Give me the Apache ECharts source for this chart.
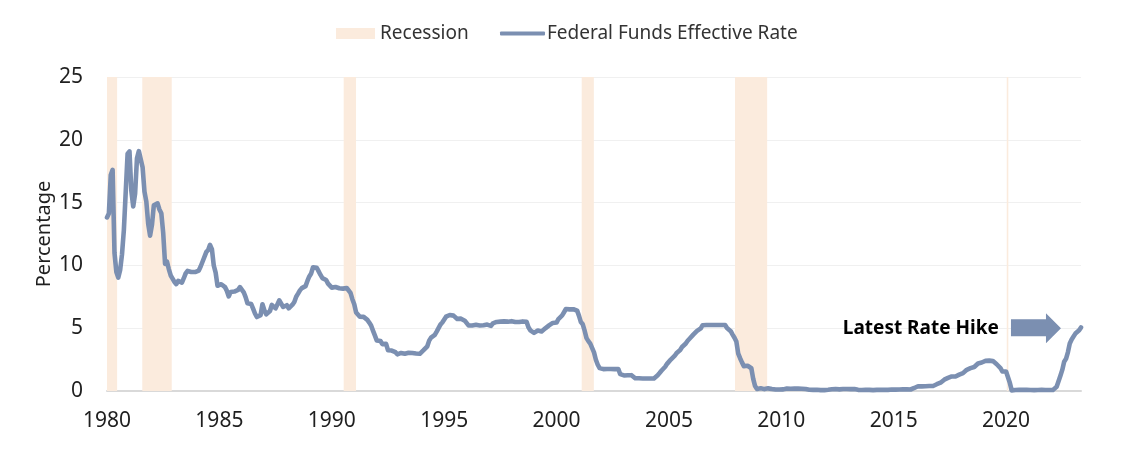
<!DOCTYPE html>
<html>
<head>
<meta charset="utf-8">
<script src="https://cdn.jsdelivr.net/npm/echarts@6/dist/echarts.min.js"></script>
<style>
html,body{margin:0;padding:0;background:#fff;}
#chart{width:1124px;height:449px;}
</style>
</head>
<body>
<div id="chart"></div>
<script>
// Monthly Federal Funds Effective Rate, starting Jan 1980
var startYear = 1980;
var rates = [
13.82,14.13,17.19,17.61,10.98,9.47,9.03,9.61,10.87,12.81,15.85,18.90,
19.08,15.93,14.70,15.72,18.52,19.10,19.04,17.82,15.87,15.08,13.31,12.37,
13.22,14.78,14.68,14.94,14.45,14.15,12.59,10.12,10.31,9.71,9.20,8.95,
8.68,8.51,8.77,8.80,8.63,8.98,9.37,9.56,9.45,9.48,9.34,9.47,
9.56,9.59,9.91,10.29,10.32,11.06,11.23,11.64,11.30,9.99,9.43,8.38,
8.35,8.50,8.58,8.27,7.97,7.53,7.88,7.90,7.92,7.99,8.05,8.27,
8.14,7.86,7.48,6.99,6.85,6.92,6.56,6.17,5.89,5.85,6.04,6.91,
6.43,6.10,6.13,6.37,6.85,6.73,6.58,6.73,7.22,7.29,6.69,6.77,
6.83,6.58,6.58,6.87,7.09,7.51,7.75,8.01,8.19,8.30,8.35,8.76,
9.12,9.36,9.85,9.84,9.81,9.53,9.24,8.99,9.02,8.84,8.55,8.45,
8.23,8.24,8.28,8.26,8.18,8.29,8.15,8.13,8.20,8.11,7.81,7.31,
6.91,6.25,6.12,5.91,5.78,5.90,5.82,5.66,5.45,5.21,4.81,4.43,
4.03,4.06,3.98,3.73,3.82,3.76,3.25,3.30,3.22,3.10,3.09,2.92,
3.02,3.03,3.07,2.96,3.00,3.04,3.06,3.03,3.09,2.99,3.02,2.96,
3.05,3.25,3.34,3.56,4.01,4.25,4.26,4.47,4.73,4.76,5.29,5.45,
5.53,5.92,5.98,6.05,6.01,6.00,5.85,5.74,5.80,5.76,5.80,5.60,
5.56,5.22,5.31,5.22,5.24,5.27,5.40,5.22,5.30,5.24,5.31,5.29,
5.25,5.19,5.39,5.51,5.50,5.56,5.52,5.54,5.54,5.50,5.52,5.50,
5.56,5.51,5.49,5.45,5.49,5.56,5.54,5.55,5.51,5.07,4.83,4.68,
4.63,4.76,4.81,4.74,4.74,4.76,4.99,5.07,5.22,5.20,5.42,5.30,
5.45,5.73,5.85,6.02,6.27,6.53,6.54,6.50,6.52,6.51,6.51,6.40,
5.98,5.49,5.31,4.80,4.21,3.97,3.77,3.65,3.07,2.49,2.09,1.82,
1.73,1.74,1.73,1.75,1.75,1.75,1.73,1.74,1.75,1.75,1.34,1.24,
1.24,1.26,1.25,1.26,1.26,1.22,1.01,1.03,1.01,1.01,1.00,0.98,
1.00,1.01,1.00,1.00,1.00,1.03,1.26,1.43,1.61,1.76,1.93,2.16,
2.28,2.50,2.63,2.79,3.00,3.04,3.26,3.50,3.62,3.78,4.00,4.16,
4.29,4.49,4.59,4.79,4.94,4.99,5.24,5.25,5.25,5.25,5.25,5.24,
5.25,5.26,5.26,5.25,5.25,5.25,5.26,5.02,4.94,4.76,4.49,4.24,
3.94,2.98,2.61,2.28,1.98,2.00,2.01,2.00,1.81,0.97,0.39,0.16,
0.15,0.22,0.18,0.15,0.18,0.21,0.16,0.16,0.15,0.12,0.12,0.12,
0.11,0.13,0.16,0.20,0.20,0.18,0.18,0.19,0.19,0.19,0.19,0.18,
0.17,0.16,0.14,0.10,0.09,0.09,0.07,0.10,0.08,0.07,0.08,0.07,
0.08,0.10,0.13,0.14,0.16,0.16,0.16,0.13,0.14,0.16,0.16,0.16,
0.14,0.15,0.14,0.15,0.11,0.09,0.09,0.08,0.08,0.09,0.08,0.09,
0.07,0.07,0.08,0.09,0.09,0.10,0.09,0.09,0.09,0.09,0.09,0.12,
0.11,0.11,0.11,0.12,0.12,0.13,0.13,0.14,0.14,0.12,0.12,0.24,
0.34,0.38,0.36,0.37,0.37,0.38,0.39,0.40,0.40,0.40,0.41,0.54,
0.65,0.66,0.79,0.90,0.91,1.04,1.15,1.16,1.15,1.15,1.16,1.30,
1.41,1.42,1.51,1.69,1.70,1.82,1.91,1.91,1.95,2.19,2.20,2.27,
2.40,2.40,2.41,2.42,2.39,2.38,2.40,2.13,2.04,1.83,1.55,1.55,
1.55,1.58,0.65,0.05,0.05,0.08,0.09,0.10,0.09,0.09,0.09,0.09,
0.09,0.08,0.07,0.07,0.06,0.08,0.10,0.09,0.08,0.08,0.08,0.08,
0.08,0.08,0.20,0.33,0.77,1.21,1.68,2.33,2.56,3.08,3.78,4.10,
4.33,4.57,4.65,4.83,5.06
];
// Recession periods (fractional years)
var recStart = [1980.0, 1981.57, 1990.53, 2001.12, 2007.94, 2020.03];
var recEnd   = [1980.45, 1982.88, 1991.08, 2001.66, 2009.37, 2020.10];
var yTicks = [0, 5, 10, 15, 20, 25];
var annotText = 'Latest Rate Hike';
var annotTextPos = [2019.7, 5.0];
var annotArrowPos = [2021.33, 5.0];

var lineColor = '#7b8fb1';
var recColor = '#fbebdd';
var font = 'Noto Sans';
var txtColor = '#1f1f1f';

var lineData = rates.map(function (v, i) { return [startYear + i / 12, v]; });
var endX = startYear + (rates.length - 1) / 12;
var recAreas = recStart.map(function (s, i) { return [{ xAxis: s }, { xAxis: recEnd[i] }]; });

var chart = echarts.init(document.getElementById('chart'), null, { renderer: 'canvas' });
chart.setOption({
  animation: false,
  backgroundColor: '#fff',
  textStyle: { fontFamily: font },
  grid: { left: 107, right: 43, top: 77, bottom: 58, containLabel: false },
  legend: [
    {
      data: [{ name: 'Recession', icon: 'rect' }],
      left: 336, top: 24, padding: 0, itemWidth: 39, itemHeight: 11,
      textStyle: { fontFamily: font, fontSize: 19, color: '#333' }
    },
    {
      data: [{ name: 'Federal Funds Effective Rate', icon: 'roundRect' }],
      left: 500, top: 24, padding: 0, itemWidth: 45, itemHeight: 4,
      textStyle: { fontFamily: font, fontSize: 19, color: '#333', padding: [0, 0, 0, -3] }
    }
  ],
  xAxis: {
    type: 'value', min: startYear, max: endX, interval: 5,
    axisLine: { show: true, lineStyle: { color: '#d9d9d9', width: 2 } },
    axisTick: { show: false },
    splitLine: { show: false },
    axisLabel: {
      fontFamily: font, fontSize: 21, color: txtColor, margin: 20,
      showMaxLabel: false,
      formatter: function (v) { return Math.round(v) === v ? String(v) : ''; }
    }
  },
  yAxis: {
    type: 'value', min: yTicks[0], max: yTicks[yTicks.length - 1], interval: 5,
    name: 'Percentage', nameLocation: 'middle', nameGap: 53, nameRotate: 90,
    nameMoveOverlap: false,
    nameTextStyle: { fontFamily: font, fontSize: 20, color: txtColor },
    axisLine: { show: false }, axisTick: { show: false },
    splitLine: { lineStyle: { color: '#f0f0f0', width: 1 } },
    axisLabel: { fontFamily: font, fontSize: 21, color: txtColor, margin: 24 }
  },
  series: [
    {
      name: 'Recession', type: 'line', data: [],
      itemStyle: { color: recColor }, lineStyle: { color: recColor },
      markArea: { silent: true, itemStyle: { color: recColor, opacity: 1 }, data: recAreas }
    },
    {
      name: 'Federal Funds Effective Rate', type: 'line', data: lineData,
      showSymbol: false, symbol: 'none', z: 3,
      itemStyle: { color: lineColor },
      lineStyle: { color: lineColor, width: 4.6, join: 'round', cap: 'round' },
      markPoint: {
        silent: true,
        data: [
          {
            coord: annotTextPos, symbol: 'circle', symbolSize: 1,
            itemStyle: { color: 'rgba(0,0,0,0)' },
            label: {
              show: true, position: 'left', distance: 0, formatter: annotText,
              fontFamily: font, fontSize: 19, fontWeight: 'bold', color: '#000'
            }
          },
          {
            coord: annotArrowPos,
            symbol: 'path://M0,6 L35,6 L35,0 L50,15 L35,30 L35,23 L0,23 Z',
            symbolSize: [50, 30], symbolKeepAspect: false,
            itemStyle: { color: lineColor },
            label: { show: false }
          }
        ]
      }
    }
  ]
});
</script>
</body>
</html>
